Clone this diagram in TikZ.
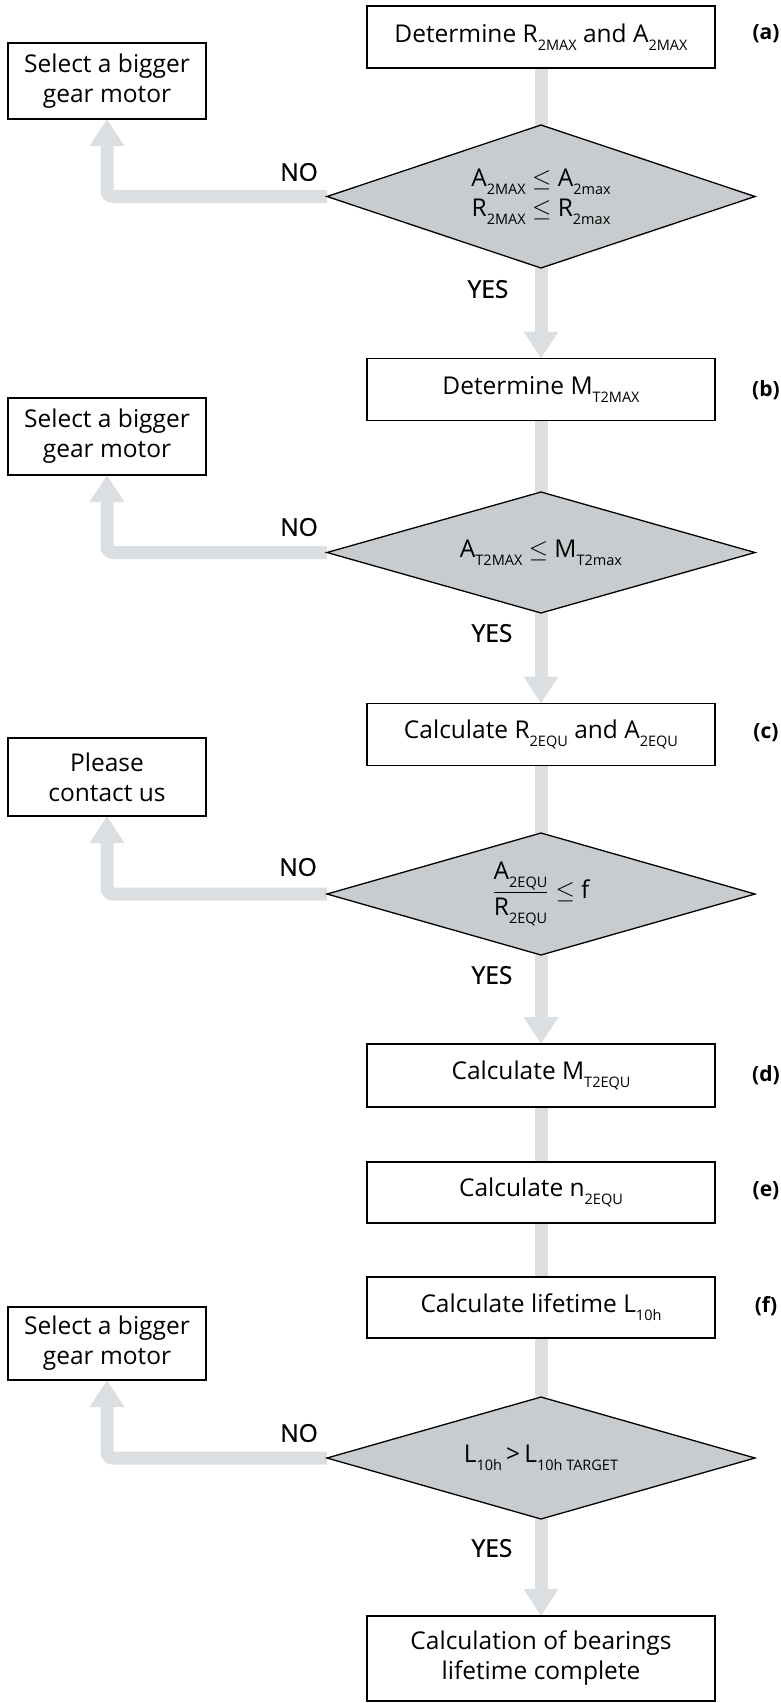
\documentclass[tikz,border=0pt]{standalone}
\usepackage{fontspec}
\setmainfont{Open Sans}
\newfontfamily\ynfont[FakeBold=0.8]{Open Sans}
\usetikzlibrary{shapes.geometric,arrows.meta,backgrounds}
\definecolor{shaftgray}{RGB}{220,223,226}
\definecolor{diafill}{RGB}{200,204,207}
\newcommand\sbx[1]{\raisebox{-0.33em}{\fontsize{14.5}{14.5}\selectfont #1}}
\begin{document}
\begin{tikzpicture}[x=1pt,y=1pt,
  txt/.style={font=\fontsize{24.5}{30}\selectfont},
  mainbox/.style={txt,draw=black,line width=1.3pt,minimum width=348pt,minimum height=62pt,inner sep=0pt,outer sep=0pt,align=center},
  sidebox/.style={txt,draw=black,line width=1.3pt,minimum width=198pt,minimum height=76pt,inner sep=0pt,outer sep=0pt,align=center},
  decision/.style={txt,diamond,aspect=3.5,draw=black,line width=1.3pt,fill=diafill,minimum width=428pt,minimum height=122pt,inner sep=0pt,outer sep=0pt,align=center},
  shaft/.style={draw=shaftgray,line width=13pt},
  flow/.style={shaft,-{Triangle[width=33pt,length=27pt]}},
  tag/.style={font=\fontsize{21}{21}\selectfont\bfseries},
  yn/.style={font=\fontsize{24.5}{24.5}\ynfont}
]
\useasboundingbox (0,0) rectangle (780,-1703);
% main column
\node[mainbox] (a) at (541,-37) {Determine R\sbx{2MAX} and A\sbx{2MAX}};
\node[decision,aspect=3,minimum height=143pt] (d1) at (541,-196.5) {A\sbx{2MAX} $\leq$ A\sbx{2max}\\R\sbx{2MAX} $\leq$ R\sbx{2max}};
\node[mainbox] (b) at (541,-389.5) {Determine M\sbx{T2MAX}};
\node[decision,minimum height=121pt] (d2) at (541,-552.5) {A\sbx{T2MAX} $\leq$ M\sbx{T2max}};
\node[mainbox] (c) at (541,-734.5) {Calculate R\sbx{2EQU} and A\sbx{2EQU}};
\node[decision] (d3) at (541,-894) {$\displaystyle\frac{\mbox{A\sbx{2EQU}}\rule[-11pt]{0pt}{11pt}}{\mbox{\rule{0pt}{21pt}R\sbx{2EQU}}}\leq$ f};
\node[mainbox,minimum height=63pt] (d) at (541,-1075.5) {Calculate M\sbx{T2EQU}};
\node[mainbox,minimum height=61pt] (e) at (541,-1192.5) {Calculate n\sbx{2EQU}};
\node[mainbox,minimum height=61pt] (f) at (541,-1307.5) {Calculate lifetime L\sbx{10h}};
\node[decision] (d4) at (541,-1458) {L\sbx{10h}\,>\,L\sbx{10h TARGET}};
\node[mainbox,minimum height=85pt] (fin) at (541,-1658.5) {Calculation of bearings\\lifetime complete};
% side boxes
\node[sidebox] (l1) at (107,-81) {Select a bigger\\gear motor};
\node[sidebox,minimum height=77pt] (l2) at (107,-436.5) {Select a bigger\\gear motor};
\node[sidebox,minimum height=78pt] (l3) at (107,-777) {Please\\contact us};
\node[sidebox,minimum height=73pt] (l4) at (107,-1343.5) {Select a bigger\\gear motor};
% tags
\node[tag] (ta) at (766,-34) {(a)};
\node[tag] (tb) at (766,-390) {(b)};
\node[tag] (tc) at (766,-733) {(c)};
\node[tag] (td) at (766,-1075) {(d)};
\node[tag] (te) at (766,-1191) {(e)};
\node[tag] (tf) at (766,-1306) {(f)};
% yes / no
\node[yn] (n1) at (299,-172) {NO};
\node[yn] (n2) at (299,-527) {NO};
\node[yn] (n3) at (298,-867) {NO};
\node[yn] (n4) at (299,-1433) {NO};
\node[yn] (y1) at (488,-289) {YES};
\node[yn] (y2) at (492,-633) {YES};
\node[yn] (y3) at (492,-975) {YES};
\node[yn] (y4) at (492,-1548) {YES};
% connectors
\begin{scope}[on background layer]
\draw[shaft] (a.south) -- (d1.north);
\draw[flow] (d1.south) -- (b.north);
\draw[flow,rounded corners=6pt] (d1.west) -| (l1.south);
\draw[shaft] (b.south) -- (d2.north);
\draw[flow] (d2.south) -- (c.north);
\draw[flow,rounded corners=6pt] (d2.west) -| (l2.south);
\draw[shaft] (c.south) -- (d3.north);
\draw[flow] (d3.south) -- (d.north);
\draw[flow,rounded corners=6pt] (d3.west) -| (l3.south);
\draw[shaft] (d.south) -- (e.north);
\draw[shaft] (e.south) -- (f.north);
\draw[shaft] (f.south) -- (d4.north);
\draw[flow] (d4.south) -- (fin.north);
\draw[flow,rounded corners=6pt] (d4.west) -| (l4.south);
\end{scope}
\end{tikzpicture}
\end{document}
